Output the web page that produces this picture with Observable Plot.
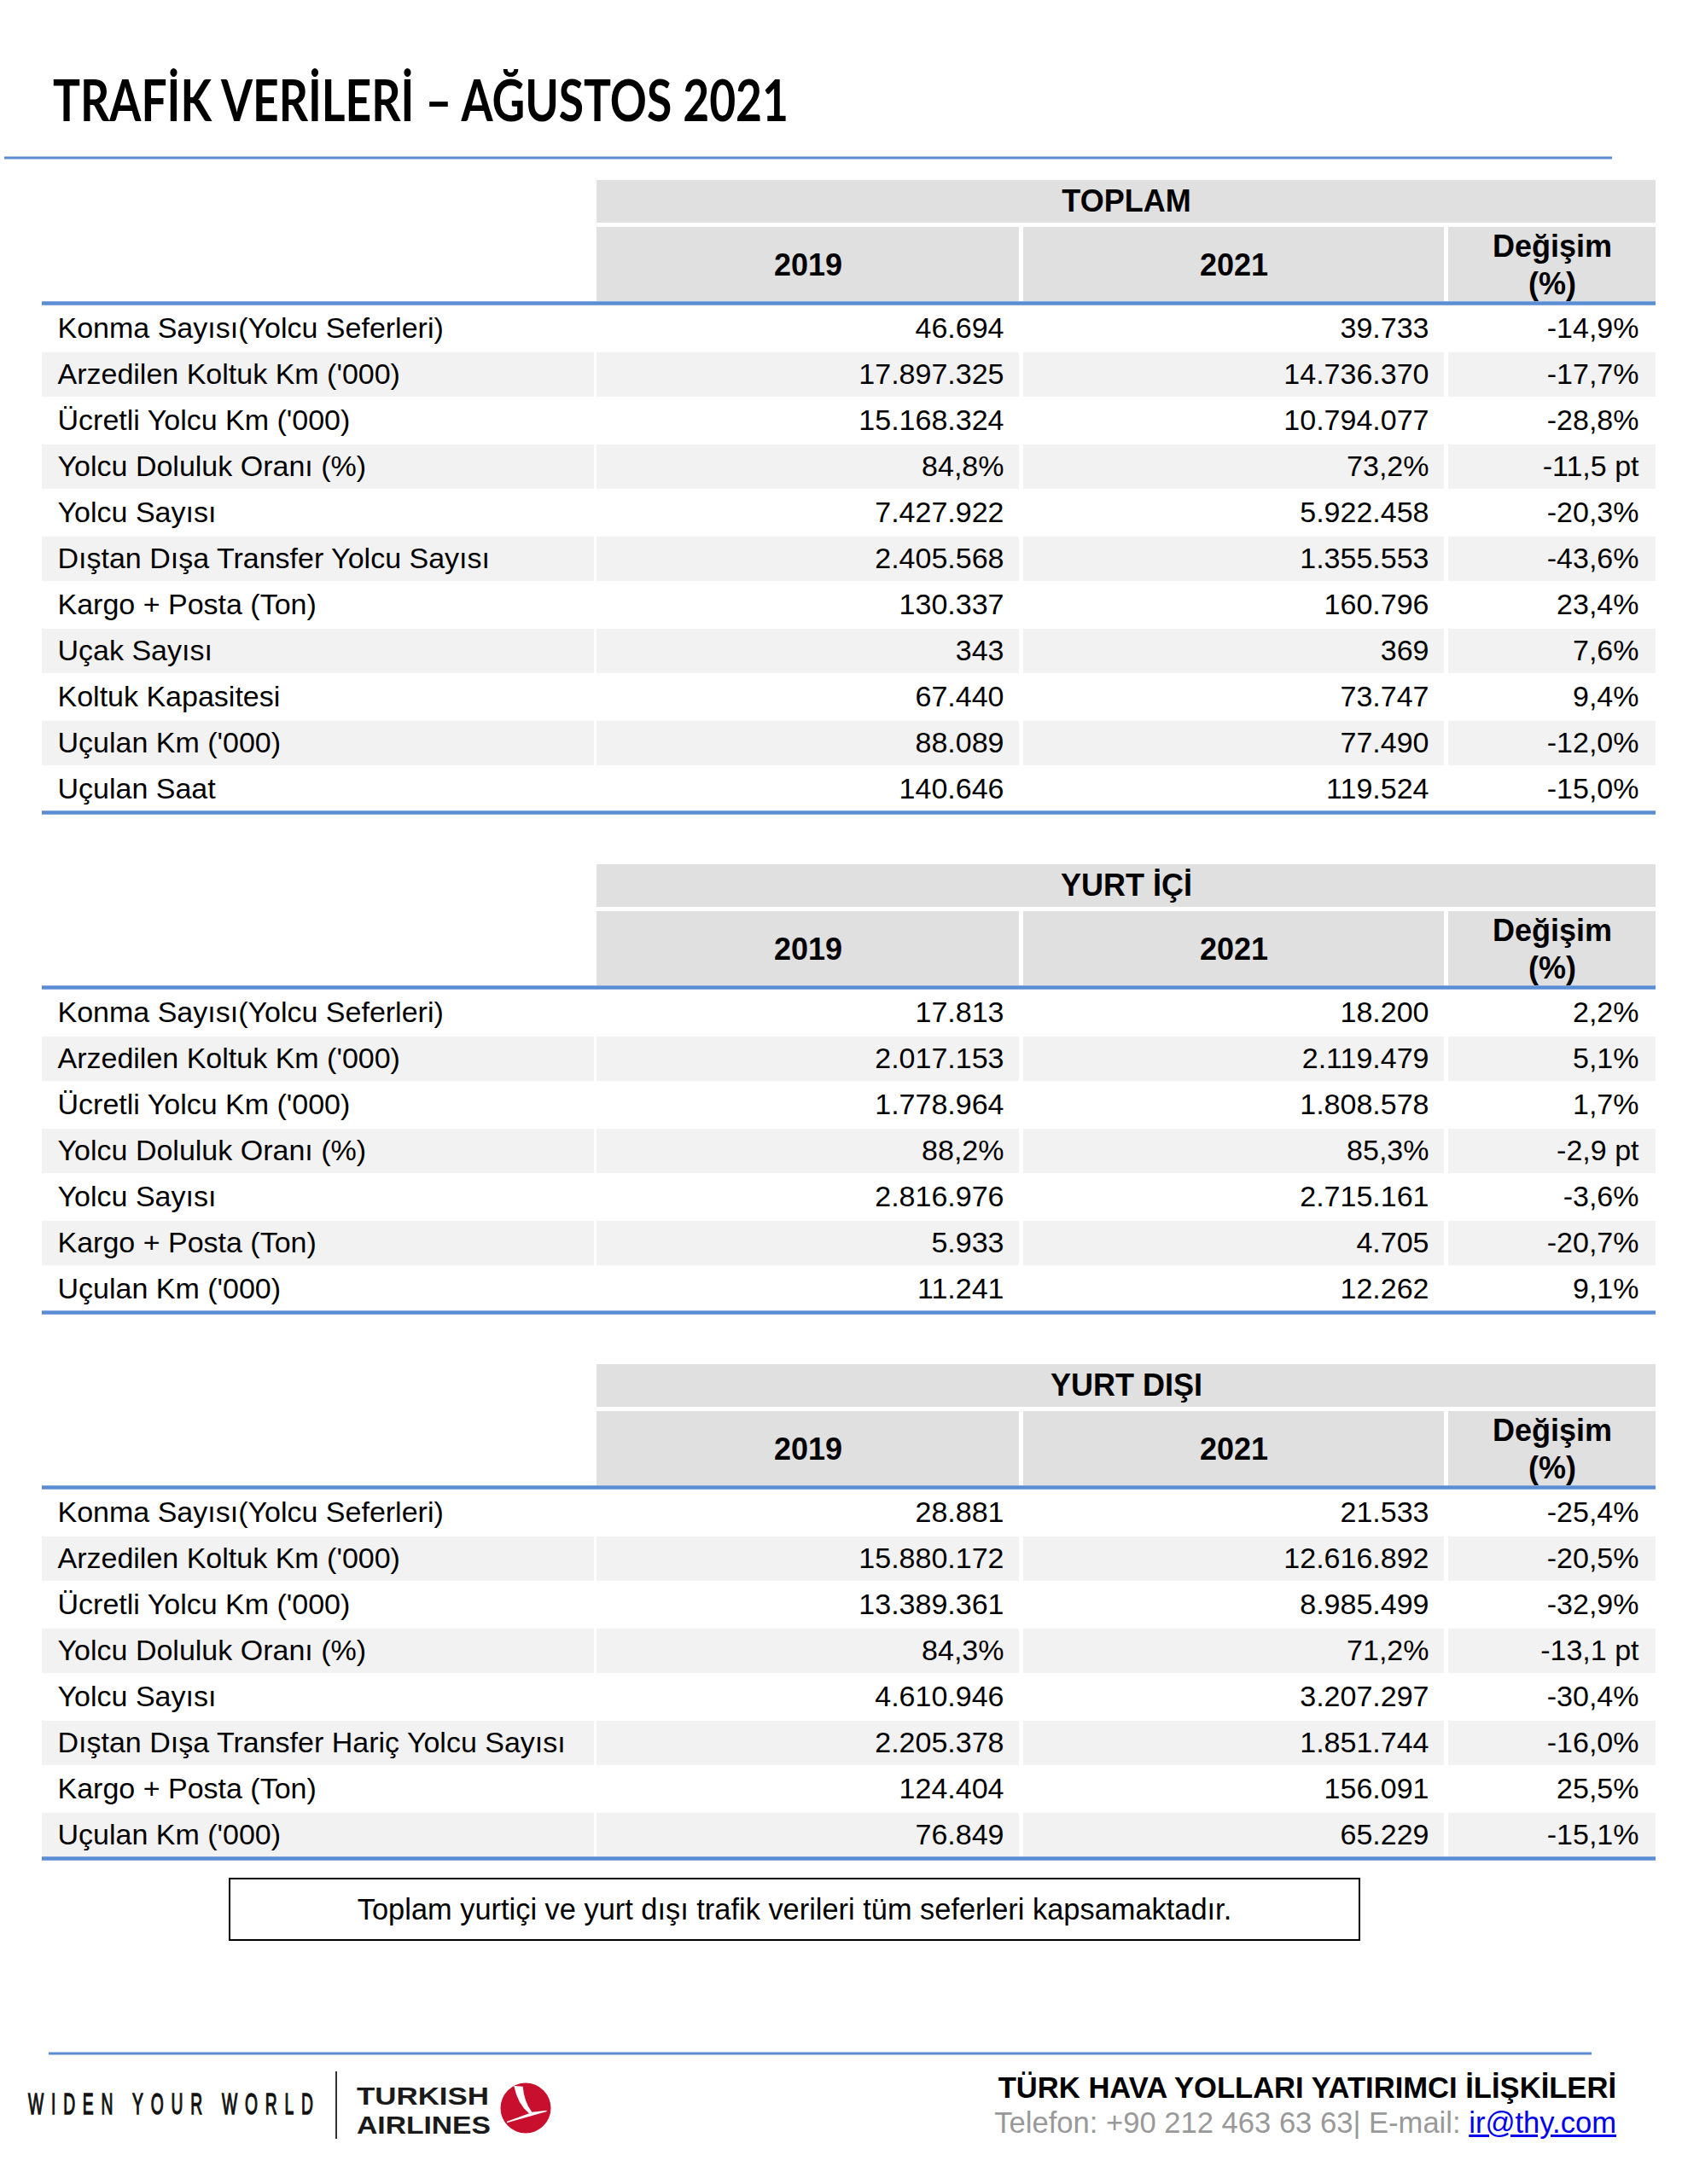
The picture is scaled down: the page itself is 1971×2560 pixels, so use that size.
<!DOCTYPE html>
<html>
<head>
<meta charset="utf-8">
<script src="https://cdn.jsdelivr.net/npm/d3@7"></script>
<script src="https://cdn.jsdelivr.net/npm/@observablehq/plot@0.6"></script>
<style>
  body { margin: 0; background: #fff; }
  #page { position: relative; width: 1971px; height: 2560px; overflow: hidden; background: #fff;
          font-family: "Liberation Sans", Arial, sans-serif; color: #000; }
  .abs { position: absolute; }
  .sec { position: absolute; left: 0; }
</style>
</head>
<body>
<div id="page"></div>
<script>
// ---------------- DATA ----------------
const pageTitle = "TRAFİK VERİLERİ – AĞUSTOS 2021";
const sectionTitles = ["TOPLAM", "YURT İÇİ", "YURT DIŞI"];
const columnHeaders = ["2019", "2021", "Değişim\n(%)"];

const toplamLabels = ["Konma Sayısı(Yolcu Seferleri)", "Arzedilen Koltuk Km ('000)", "Ücretli Yolcu Km ('000)",
  "Yolcu Doluluk Oranı (%)", "Yolcu Sayısı", "Dıştan Dışa Transfer Yolcu Sayısı", "Kargo + Posta (Ton)",
  "Uçak Sayısı", "Koltuk Kapasitesi", "Uçulan Km ('000)", "Uçulan Saat"];
const toplam2019 = [46694, 17897325, 15168324, 84.8, 7427922, 2405568, 130337, 343, 67440, 88089, 140646];
const toplam2021 = [39733, 14736370, 10794077, 73.2, 5922458, 1355553, 160796, 369, 73747, 77490, 119524];
const toplamChange = [-14.9, -17.7, -28.8, -11.5, -20.3, -43.6, 23.4, 7.6, 9.4, -12.0, -15.0];

const icLabels = ["Konma Sayısı(Yolcu Seferleri)", "Arzedilen Koltuk Km ('000)", "Ücretli Yolcu Km ('000)",
  "Yolcu Doluluk Oranı (%)", "Yolcu Sayısı", "Kargo + Posta (Ton)", "Uçulan Km ('000)"];
const ic2019 = [17813, 2017153, 1778964, 88.2, 2816976, 5933, 11241];
const ic2021 = [18200, 2119479, 1808578, 85.3, 2715161, 4705, 12262];
const icChange = [2.2, 5.1, 1.7, -2.9, -3.6, -20.7, 9.1];

const disLabels = ["Konma Sayısı(Yolcu Seferleri)", "Arzedilen Koltuk Km ('000)", "Ücretli Yolcu Km ('000)",
  "Yolcu Doluluk Oranı (%)", "Yolcu Sayısı", "Dıştan Dışa Transfer Hariç Yolcu Sayısı", "Kargo + Posta (Ton)",
  "Uçulan Km ('000)"];
const dis2019 = [28881, 15880172, 13389361, 84.3, 4610946, 2205378, 124404, 76849];
const dis2021 = [21533, 12616892, 8985499, 71.2, 3207297, 1851744, 156091, 65229];
const disChange = [-25.4, -20.5, -32.9, -13.1, -30.4, -16.0, 25.5, -15.1];

const noteText = "Toplam yurtiçi ve yurt dışı trafik verileri tüm seferleri kapsamaktadır.";
const footerTitle = "TÜRK HAVA YOLLARI YATIRIMCI İLİŞKİLERİ";
const footerContact = "Telefon: +90 212 463 63 63| E-mail: ";
const footerEmail = "ir@thy.com";

// ---------------- LAYOUT / STYLE ----------------
const W = 1971, ROW = 54, HEAD = 147, FOOT = 8;
const FONT = "'Liberation Sans', Arial, sans-serif";
const BLUE = "#5b8dd3", HEADER_FILL = "#e0e0e0", STRIPE = "#f2f2f2";
const cols = { label: [49, 696], v19: [699, 1194], v21: [1199, 1692], chg: [1697, 1940] };
const textRight = { v19: 1176, v21: 1674, chg: 1920 };
const LABEL_X = 67;
const sectionTops = [211, 1013, 1599];

const loc = d3.formatLocale({ decimal: ",", thousands: ".", grouping: [3], currency: ["", ""], minus: "-" });
const fInt = loc.format(",d"), f1 = loc.format(".1f");
const fmtVal = (v, pct) => pct ? f1(v) + "%" : fInt(v);
const fmtChg = (v, pct) => pct ? f1(v) + " pt" : f1(v) + "%";

function sectionPlot(title, labels, a, b, c) {
  const n = labels.length;
  const u = px => px / ROW;
  const rows = labels.map((label, i) => ({ i, label, a: a[i], b: b[i], c: c[i], pct: label.endsWith("(%)") }));
  const height = HEAD + n * ROW + FOOT;
  const stripeCells = [];
  rows.filter(d => d.i % 2 === 1).forEach(d =>
    ["label", "v19", "v21", "chg"].forEach(k => stripeCells.push({ i: d.i, k })));
  const hdr2 = ["v19", "v21", "chg"].map((k, j) => ({ k, text: columnHeaders[j] }));
  return Plot.plot({
    width: W, height, margin: 0,
    style: { fontFamily: FONT, color: "#000", background: "transparent", overflow: "visible" },
    x: { domain: [0, W], range: [0, W], axis: null },
    y: { domain: [-u(HEAD), n + u(FOOT)], range: [0, height], axis: null },
    marks: [
      // header row 1
      Plot.rect([title], { x1: () => cols.v19[0], x2: () => cols.chg[1], y1: () => u(-147), y2: () => u(-97), fill: HEADER_FILL }),
      Plot.text([title], { x: () => (cols.v19[0] + cols.chg[1]) / 2, y: () => u(-122), text: d => d,
        fontSize: 36, fontWeight: "bold", fill: "#000" }),
      // header row 2
      Plot.rect(hdr2, { x1: d => cols[d.k][0], x2: d => cols[d.k][1], y1: () => u(-92), y2: () => u(-5), fill: HEADER_FILL }),
      Plot.text(hdr2, { x: d => (cols[d.k][0] + cols[d.k][1]) / 2, y: () => u(-50), text: "text",
        fontSize: 36, fontWeight: "bold", lineHeight: 1.22, fill: "#000" }),
      // stripes
      Plot.rect(stripeCells, { x1: d => cols[d.k][0], x2: d => cols[d.k][1], y1: d => d.i, y2: d => d.i + 1,
        insetTop: 1, insetBottom: 1, fill: STRIPE }),
      // lines
      Plot.ruleY([u(-3), n], { x1: () => cols.label[0], x2: () => cols.chg[1], y: d => d, stroke: BLUE, strokeWidth: 4.5 }),
      // body text
      Plot.text(rows, { x: () => LABEL_X, y: d => d.i + 0.5, text: "label", textAnchor: "start", fontSize: 34, fill: "#000" }),
      Plot.text(rows, { x: () => textRight.v19, y: d => d.i + 0.5, text: d => fmtVal(d.a, d.pct), textAnchor: "end", fontSize: 34, fill: "#000" }),
      Plot.text(rows, { x: () => textRight.v21, y: d => d.i + 0.5, text: d => fmtVal(d.b, d.pct), textAnchor: "end", fontSize: 34, fill: "#000" }),
      Plot.text(rows, { x: () => textRight.chg, y: d => d.i + 0.5, text: d => fmtChg(d.c, d.pct), textAnchor: "end", fontSize: 34, fill: "#000" })
    ]
  });
}

const page = document.getElementById("page");

// title
page.insertAdjacentHTML("beforeend", `
<svg class="abs" style="left:0;top:0" width="1971" height="200">
  <text x="62" y="142" font-family="Lato, 'Open Sans', sans-serif" font-weight="700" font-size="67"
        textLength="862" lengthAdjust="spacingAndGlyphs" fill="#000">${pageTitle}</text>
  <rect x="5" y="183.5" width="1884" height="3" fill="${BLUE}"></rect>
</svg>`);

const sections = [
  [sectionTitles[0], toplamLabels, toplam2019, toplam2021, toplamChange],
  [sectionTitles[1], icLabels, ic2019, ic2021, icChange],
  [sectionTitles[2], disLabels, dis2019, dis2021, disChange]
];
sections.forEach((s, j) => {
  const wrap = document.createElement("div");
  wrap.className = "sec";
  wrap.style.top = sectionTops[j] + "px";
  wrap.appendChild(sectionPlot(...s));
  page.appendChild(wrap);
});

// note box
page.insertAdjacentHTML("beforeend", `
<div class="abs" style="left:268px;top:2201px;width:1322px;height:70px;border:2px solid #000;
  display:flex;align-items:center;justify-content:center;font-size:34.4px;">${noteText}</div>`);

// footer line + logo
page.insertAdjacentHTML("beforeend", `
<svg class="abs" style="left:0;top:2380px" width="1971" height="180">
  <rect x="57" y="25.5" width="1808" height="3" fill="${BLUE}"></rect>
  <text transform="translate(33,98) scale(0.55,1)" font-family="${FONT}" font-size="35" fill="#111"
        stroke="#111" stroke-width="1.4" textLength="607" lengthAdjust="spacing">WIDEN YOUR WORLD</text>
  <line x1="394" x2="394" y1="48" y2="127" stroke="#333" stroke-width="2"></line>
  <text x="418" y="87" font-family="${FONT}" font-weight="bold" font-size="29" fill="#1a1a1a"
        textLength="155" lengthAdjust="spacingAndGlyphs">TURKISH</text>
  <text x="418" y="121" font-family="${FONT}" font-weight="bold" font-size="29" fill="#1a1a1a"
        textLength="157" lengthAdjust="spacingAndGlyphs">AIRLINES</text>
  <circle cx="616" cy="91" r="29.5" fill="#c8102e"></circle>
  <path d="M602.3,65 Q606.7,86.7 620,97.3 L594,106.7 L594,108.3 L640.7,95 L640.7,93.7 L623.3,95.7 Q614,83.3 612.7,65.7 Z" fill="#fff"></path>
</svg>`);

// footer right text
page.insertAdjacentHTML("beforeend", `
<div class="abs" style="right:77px;top:2430px;text-align:right;font-size:34.6px;line-height:34px;white-space:nowrap;">
  <div style="font-weight:bold;">${footerTitle}</div>
  <div style="color:#999;margin-top:7px;">${footerContact}<span style="color:#0000ee;text-decoration:underline;">${footerEmail}</span></div>
</div>`);
</script>
</body>
</html>
